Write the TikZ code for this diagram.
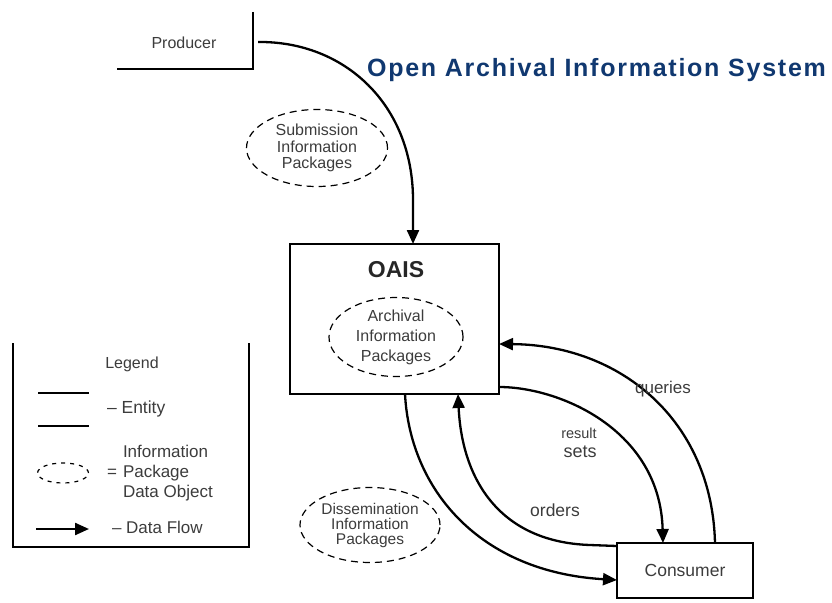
\documentclass[tikz,border=0pt]{standalone}
\usepackage{fontspec}
\setmainfont{Liberation Sans}
\usetikzlibrary{shapes.geometric,arrows.meta}
\definecolor{titleblue}{RGB}{16,56,112}
\definecolor{txtgray}{RGB}{60,60,60}

\begin{document}
\begin{tikzpicture}[x=1pt,y=-1pt,
  every node/.style={inner sep=0pt, outer sep=0pt},
  lbl/.style={text=txtgray, font=\fontsize{16}{17}\selectfont, align=center},
  entity/.style={draw=black, line width=2pt, rectangle},
  edgeline/.style={draw=black, line width=2pt},
  pkg/.style={draw=black, line width=1.2pt, dash pattern=on 7pt off 5pt, ellipse, text=txtgray, align=center},
  flow/.style={draw=black, line width=2.3pt, -{Triangle[length=14pt,width=12pt]}}
]
\useasboundingbox (0,0) rectangle (832,602);

% Title
\node[text=titleblue, font=\fontsize{25}{30}\selectfont\bfseries\addfontfeature{LetterSpace=7}, anchor=base] (title) at (596.5,76) {Open Archival Information System};

% Producer entity (open box)
\node[minimum width=136pt, minimum height=57pt] (producer) at (185,40.5) {};
\draw[edgeline] (producer.north east) -- (producer.south east) -- (producer.south west);
\node[lbl] (producertext) at (184,43) {Producer};

% Submission information packages
\node[pkg, minimum width=141pt, minimum height=77pt, font=\fontsize{16}{16.5}\selectfont] (sip) at (317,148) {Submission\\Information\\Packages};

% OAIS entity
\node[entity, minimum width=209pt, minimum height=150pt] (oais) at (394.5,319) {};
\node[text=black!85, font=\fontsize{23}{26}\selectfont\bfseries] (oaistitle) at (396,270) {OAIS};
\node[pkg, minimum width=134pt, minimum height=79pt, font=\fontsize{16}{20}\selectfont] (aip) at (396,337) {Archival\\Information\\Packages};

% Dissemination information packages
\node[pkg, minimum width=140pt, minimum height=75pt, font=\fontsize{15.5}{15}\selectfont] (dip) at (370,525) {Dissemination\\Information\\Packages};

% Consumer entity
\node[entity, minimum width=136pt, minimum height=55pt, text=txtgray, font=\fontsize{17.5}{18}\selectfont] (consumer) at (685,570.5) {Consumer};

% Data flows
\draw[flow] ([xshift=5pt,yshift=-1.5pt]producer.east) .. controls (345,41) and (413,105) .. (413,200) -- ([xshift=18.5pt]oais.north);
\draw[flow] ([xshift=10.5pt]oais.south) .. controls (410,490) and (480,572) .. ([yshift=-9.5pt]consumer.west);
\draw[flow] ([yshift=24.5pt]consumer.west) -- (590,545) .. controls (500,542) and (462,480) .. ([xshift=63.5pt]oais.south);
\draw[flow] ([yshift=-68pt]oais.east) .. controls (560,387) and (660,430) .. ([xshift=-22pt]consumer.north);
\draw[flow] ([xshift=30pt]consumer.north) .. controls (712,420) and (620,345) .. ([yshift=-25pt]oais.east);

% Flow labels
\node[lbl, font=\fontsize{17}{18}\selectfont] (queries) at (663,389) {queries};
\node[lbl, font=\fontsize{14.5}{15}\selectfont] (result) at (579,433) {result};
\node[lbl, font=\fontsize{18}{19}\selectfont] (sets) at (580,452) {sets};
\node[lbl, font=\fontsize{17.5}{18}\selectfont] (orders) at (555,510) {orders};

% Legend
\node[minimum width=236pt, minimum height=204pt] (legend) at (131,445) {};
\draw[edgeline, line width=1.5pt] (legend.north west) -- (legend.south west) -- (legend.south east) -- (legend.north east);
\node[lbl, font=\fontsize{16}{17}\selectfont] (legendtitle) at (132,364) {Legend};
\coordinate (enttopa) at (38,393);
\coordinate (enttopb) at (89,393);
\coordinate (entbota) at (38,426);
\coordinate (entbotb) at (89,426);
\draw[edgeline] (enttopa) -- (enttopb);
\draw[edgeline] (entbota) -- (entbotb);
\node[lbl, anchor=west, font=\fontsize{17.5}{18}\selectfont] (entitykey) at (107,409) {– Entity};
\node[draw=black, ellipse, dash pattern=on 4pt off 5pt, line width=1.2pt, minimum width=51pt, minimum height=20pt] (pkgsample) at (63,473) {};
\node[lbl, anchor=west, font=\fontsize{17}{18}\selectfont] (eqsign) at (107,473) {=};
\node[lbl, anchor=west, align=left, font=\fontsize{17}{20}\selectfont] (pkgkey) at (123,473) {Information\\Package\\Data Object};
\coordinate (flowa) at (36,529);
\coordinate (flowb) at (89,529);
\draw[flow] (flowa) -- (flowb);
\node[lbl, anchor=west, font=\fontsize{17}{18}\selectfont] (flowkey) at (112,527) {– Data Flow};
\end{tikzpicture}
\end{document}
